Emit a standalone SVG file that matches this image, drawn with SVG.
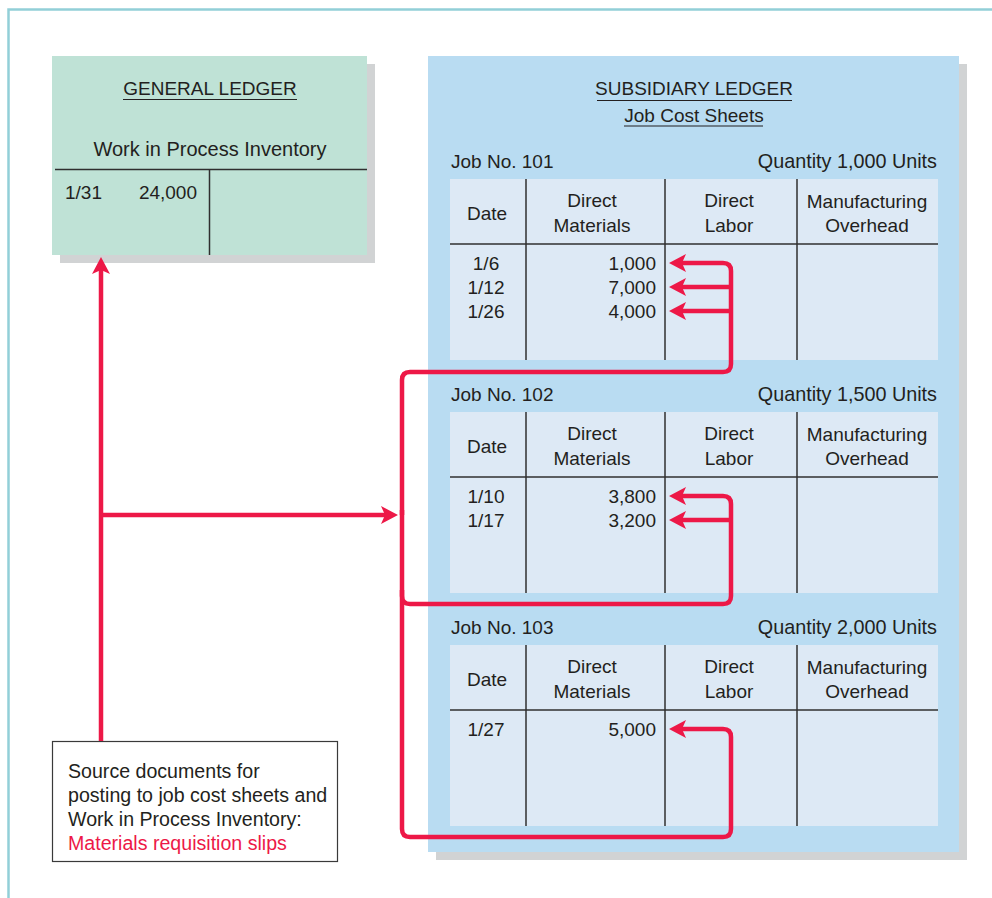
<svg xmlns="http://www.w3.org/2000/svg" width="992" height="898" viewBox="0 0 992 898">
<defs>
<style>
text{font-family:"Liberation Sans",Arial,sans-serif;font-size:19px;fill:#231f20}
.c{text-anchor:middle}
.e{text-anchor:end}
.q{font-size:19.8px}
.src{font-size:19.6px}
.red{fill:#ed1847}
.shadow{fill:#d1d3d4}
.tbl{fill:#dde9f5}
.rule{stroke:#2f2f2f;stroke-width:1.5;fill:none}
.ul{stroke:#231f20;stroke-width:1.2}
.conn{stroke:#ed1847;stroke-width:4.5;fill:none}
</style>
<marker id="ah" viewBox="0 0 17 18" markerWidth="17" markerHeight="18" markerUnits="userSpaceOnUse" refX="4" refY="9" orient="auto">
<path d="M0,0 L17,9 L0,18 L4,9 z" fill="#ed1847"/>
</marker>
<g id="sheet">
<rect class="tbl" x="0" y="0" width="488" height="181"/>
<line class="rule" x1="0" y1="65" x2="488" y2="65"/>
<line class="rule" x1="76" y1="0" x2="76" y2="181"/>
<line class="rule" x1="215" y1="0" x2="215" y2="181"/>
<line class="rule" x1="347" y1="0" x2="347" y2="181"/>
<text class="c" x="37" y="41">Date</text>
<text class="c" x="142" y="28">Direct</text>
<text class="c" x="142" y="53">Materials</text>
<text class="c" x="279" y="28">Direct</text>
<text class="c" x="279" y="53">Labor</text>
<text class="c" x="417" y="29">Manufacturing</text>
<text class="c" x="417" y="53">Overhead</text>
</g>
</defs>
<rect width="992" height="898" fill="#ffffff"/>
<path d="M8.5 898 V9.5 H992" fill="none" stroke="#92cfd8" stroke-width="2.5"/>

<g id="general-ledger">
<rect class="shadow" x="60" y="64" width="315" height="199"/>
<rect x="52" y="56" width="315" height="199" fill="#bfe2d6"/>
<text class="c" x="210" y="95">GENERAL LEDGER</text>
<line class="ul" x1="123" y1="99.5" x2="297" y2="99.5"/>
<text class="c" x="210" y="156" style="font-size:20px">Work in Process Inventory</text>
<line class="rule" x1="55" y1="169.5" x2="367" y2="169.5"/>
<line class="rule" x1="209.5" y1="169.5" x2="209.5" y2="255"/>
<text x="65" y="199">1/31</text>
<text class="e" x="197" y="199">24,000</text>
</g>

<g id="subsidiary-ledger">
<rect class="shadow" x="436" y="64" width="531" height="796"/>
<rect x="428" y="56" width="531" height="796" fill="#b9dcf2"/>
<text class="c" x="694" y="95">SUBSIDIARY LEDGER</text>
<line class="ul" x1="597" y1="100.5" x2="792" y2="100.5"/>
<text class="c" x="694" y="122">Job Cost Sheets</text>
<line class="ul" x1="624" y1="126" x2="763" y2="126"/>
</g>

<g id="job-101">
<text x="451" y="168">Job No. 101</text>
<text class="e q" x="937" y="168">Quantity 1,000 Units</text>
<use href="#sheet" x="450" y="179"/>
<text class="c" x="486" y="270">1/6</text>
<text class="c" x="486" y="294">1/12</text>
<text class="c" x="486" y="318">1/26</text>
<text class="e" x="656" y="270">1,000</text>
<text class="e" x="656" y="294">7,000</text>
<text class="e" x="656" y="318">4,000</text>
</g>

<g id="job-102">
<text x="451" y="401">Job No. 102</text>
<text class="e q" x="937" y="401">Quantity 1,500 Units</text>
<use href="#sheet" x="450" y="412"/>
<text class="c" x="486" y="503">1/10</text>
<text class="c" x="486" y="527">1/17</text>
<text class="e" x="656" y="503">3,800</text>
<text class="e" x="656" y="527">3,200</text>
</g>

<g id="job-103">
<text x="451" y="634">Job No. 103</text>
<text class="e q" x="937" y="634">Quantity 2,000 Units</text>
<use href="#sheet" x="450" y="645"/>
<text class="c" x="486" y="736">1/27</text>
<text class="e" x="656" y="736">5,000</text>
</g>

<g id="source-documents">
<rect x="52.5" y="741.5" width="285" height="120" fill="#ffffff" stroke="#3a3a3a" stroke-width="1.2"/>
<text class="src" x="68" y="778">Source documents for</text>
<text class="src" x="68" y="802">posting to job cost sheets and</text>
<text class="src" x="68" y="826">Work in Process Inventory:</text>
<text class="src red" x="68" y="850">Materials requisition slips</text>
</g>

<g id="connectors">
<path class="conn" d="M101 741 V270" marker-end="url(#ah)"/>
<path class="conn" d="M101 515 H385" marker-end="url(#ah)"/>
<path class="conn" d="M402 515 V380 Q402 372 410 372 H723 Q731 372 731 364 V271 Q731 263 723 263 H682" marker-end="url(#ah)"/>
<path class="conn" d="M731 287 H682" marker-end="url(#ah)"/>
<path class="conn" d="M731 311 H682" marker-end="url(#ah)"/>
<path class="conn" d="M402 510 V596 Q402 604 410 604 H723 Q731 604 731 596 V504 Q731 496 723 496 H682" marker-end="url(#ah)"/>
<path class="conn" d="M731 520 H682" marker-end="url(#ah)"/>
<path class="conn" d="M402 590 V829 Q402 837 410 837 H723 Q731 837 731 829 V737 Q731 729 723 729 H682" marker-end="url(#ah)"/>
</g>
</svg>
